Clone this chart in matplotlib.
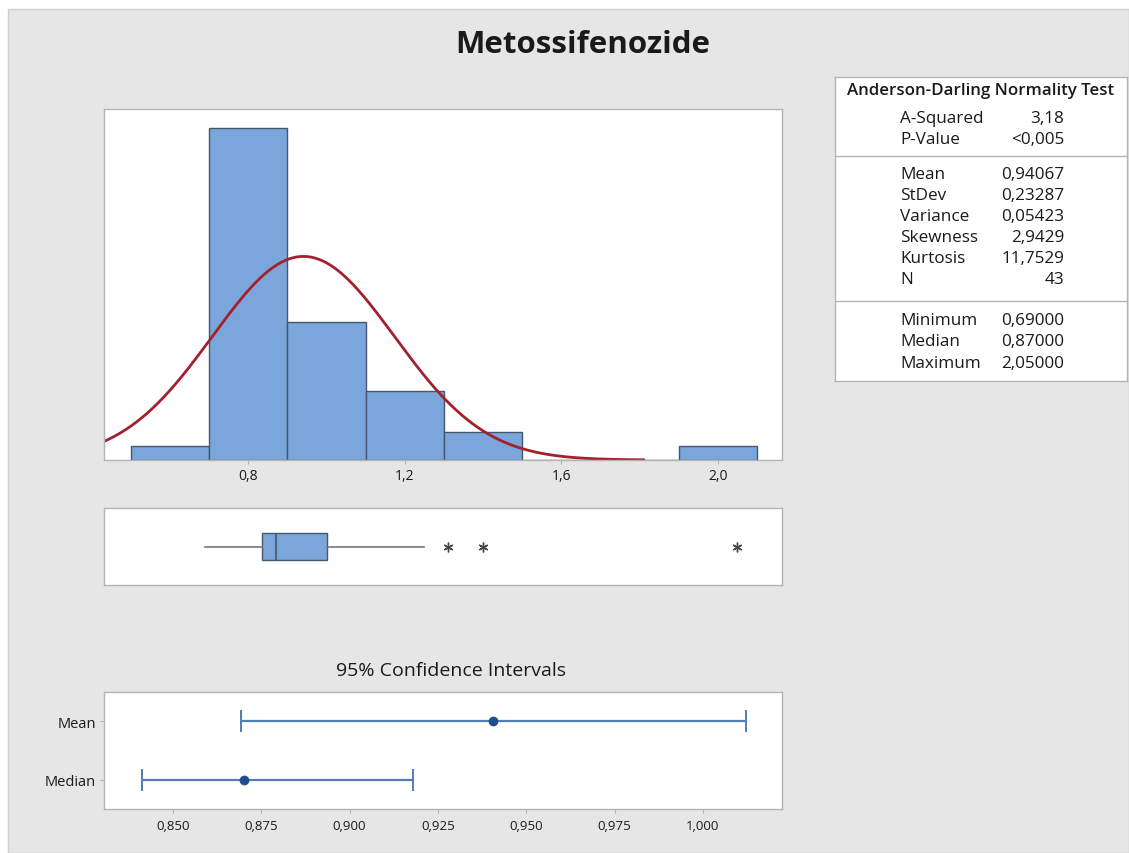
import numpy as np
import matplotlib
matplotlib.use('Agg')
import matplotlib.pyplot as plt
from matplotlib.patches import Rectangle

plt.rcParams['font.family'] = ['Open Sans', 'DejaVu Sans']

#######################################################
# Data
#######################################################
title = 'Metossifenozide'

bin_edges = [0.5, 0.7, 0.9, 1.1, 1.3, 1.5, 1.7, 1.9, 2.1]
bin_counts = [1, 24, 10, 5, 2, 0, 0, 1]
hist_ticks = [0.8, 1.2, 1.6, 2.0]

mean = 0.94067
stdev = 0.23287
n_obs = 43

# box plot summary
box_q1 = 0.835
box_med = 0.87
box_q3 = 1.0
box_lo = 0.69
box_hi = 1.25
box_fliers = [1.31, 1.40, 2.05]

# 95% confidence intervals
ci_labels = ['Mean', 'Median']
ci_center = [0.94067, 0.87]
ci_low = [0.8692, 0.8412]
ci_high = [1.0122, 0.9180]
ci_ticks = [0.850, 0.875, 0.900, 0.925, 0.950, 0.975, 1.000]

table_head = 'Anderson-Darling Normality Test'
table_groups = [
    [('A-Squared', '3,18'), ('P-Value', '<0,005')],
    [('Mean', '0,94067'), ('StDev', '0,23287'), ('Variance', '0,05423'),
     ('Skewness', '2,9429'), ('Kurtosis', '11,7529'), ('N', '43')],
    [('Minimum', '0,69000'), ('Median', '0,87000'), ('Maximum', '2,05000')],
]

#######################################################
# Styling
#######################################################
W, H = 1129, 854
bg_gray = '#e6e6e6'
bar_face = '#7aa6db'
bar_edge = '#46566b'
curve_col = '#a3202c'
spine_col = '#b4b4b4'
ci_line = '#4f7fb6'
ci_dot = '#1d4f8f'
txt_col = '#1a1a1a'


def fx(px):
    return px / W


def fy(py):
    return 1 - py / H


def px_axes(x0, y0, x1, y1):
    return [fx(x0), fy(y1), fx(x1) - fx(x0), fy(y0) - fy(y1)]


def style_axes(ax):
    for s in ax.spines.values():
        s.set_color(spine_col)
        s.set_linewidth(1.0)
    ax.set_facecolor('white')


def comma(v, fmt):
    return (fmt % v).replace('.', ',')


fig = plt.figure(figsize=(W / 100, H / 100), dpi=100)
fig.patch.set_facecolor('white')

# gray panel
fig.patches.append(Rectangle((fx(8), 0), 1 - fx(8), fy(10), transform=fig.transFigure,
                             facecolor=bg_gray, edgecolor='#cfcfcf', lw=1.0, zorder=-10))

fig.text(fx(583), fy(45), title, ha='center', va='center', fontsize=22.5,
         fontweight='bold', color=txt_col)

#######################################################
# Histogram with fitted normal
#######################################################
ax1 = fig.add_axes(px_axes(104, 110, 782, 461))
style_axes(ax1)
ax1.hist(bin_edges[:-1], bins=bin_edges, weights=bin_counts,
         color=bar_face, edgecolor=bar_edge, linewidth=1.0)
xlo, xhi = 0.431, 2.164
xs = np.linspace(xlo, 1.81, 300)
binw = bin_edges[1] - bin_edges[0]
ys = n_obs * binw / (stdev * np.sqrt(2 * np.pi)) * np.exp(-0.5 * ((xs - mean) / stdev) ** 2)
ax1.plot(xs, ys, color=curve_col, lw=2.0)
ax1.set_xlim(xlo, xhi)
ax1.set_ylim(0, 25.4)
ax1.set_yticks([])
ax1.set_xticks(hist_ticks)
ax1.set_xticklabels([comma(t, '%.1f') for t in hist_ticks])
ax1.tick_params(axis='x', length=3, color=spine_col, labelsize=10, pad=3,
                labelcolor=txt_col)

#######################################################
# Box plot
#######################################################
ax2 = fig.add_axes(px_axes(104, 509, 782, 586))
style_axes(ax2)
stats = [dict(med=box_med, q1=box_q1, q3=box_q3, whislo=box_lo, whishi=box_hi,
              fliers=box_fliers)]
ax2.bxp(stats, positions=[0.5], widths=0.35, vert=False, patch_artist=True,
        showcaps=False,
        boxprops=dict(facecolor=bar_face, edgecolor=bar_edge, lw=1.0),
        medianprops=dict(color=bar_edge, lw=1.2),
        whiskerprops=dict(color='#777777', lw=1.2),
        flierprops=dict(marker=(6, 2, 0), markersize=7, markerfacecolor='#444444',
                        markeredgecolor='#444444', markeredgewidth=1.0))
ax2.set_xlim(xlo, xhi)
ax2.set_ylim(0, 1)
ax2.set_xticks([])
ax2.set_yticks([])

#######################################################
# Confidence intervals
#######################################################
fig.text(fx(451), fy(671), '95% Confidence Intervals', ha='center', va='center',
         fontsize=14, color=txt_col)
ax3 = fig.add_axes(px_axes(104, 693, 782, 810))
style_axes(ax3)
ypos = [1, 0]
for i in range(len(ci_labels)):
    ax3.errorbar(ci_center[i], ypos[i],
                 xerr=[[ci_center[i] - ci_low[i]], [ci_high[i] - ci_center[i]]],
                 fmt='o', color=ci_line, ecolor=ci_line, elinewidth=1.6,
                 capsize=8, capthick=1.4, markersize=6,
                 markerfacecolor=ci_dot, markeredgecolor=ci_dot)
ax3.set_xlim(0.8305, 1.0224)
ax3.set_ylim(-0.5, 1.5)
ax3.set_yticks(ypos)
ax3.set_yticklabels(ci_labels)
ax3.set_xticks(ci_ticks)
ax3.set_xticklabels([comma(t, '%.3f') for t in ci_ticks])
ax3.tick_params(axis='x', length=3, color=spine_col, labelsize=9.5, pad=4,
                labelcolor=txt_col)
ax3.tick_params(axis='y', length=3, color=spine_col, labelsize=10.5, pad=3,
                labelcolor=txt_col)

#######################################################
# Summary table
#######################################################
tab = fig.add_axes(px_axes(835, 78, 1127, 382))
tab.set_xlim(835, 1127)
tab.set_ylim(382, 78)
tab.set_xticks([])
tab.set_yticks([])
style_axes(tab)

tab.text(981, 91, table_head, ha='center', va='center', fontsize=12.2,
         fontweight='semibold', color=txt_col)
row_y = [[119, 140], [175, 196, 217, 238, 259, 280], [321, 342, 364]]
for g, rows in enumerate(table_groups):
    for (lab, val), yy in zip(rows, row_y[g]):
        tab.text(900, yy, lab, ha='left', va='center', fontsize=12.3, color=txt_col)
        tab.text(1064, yy, val, ha='right', va='center', fontsize=12.3, color=txt_col)
for yy in [157, 302]:
    tab.axhline(yy, color=spine_col, lw=1.0)

plt.savefig('out.png', dpi=100, facecolor=fig.get_facecolor())
plt.close()
